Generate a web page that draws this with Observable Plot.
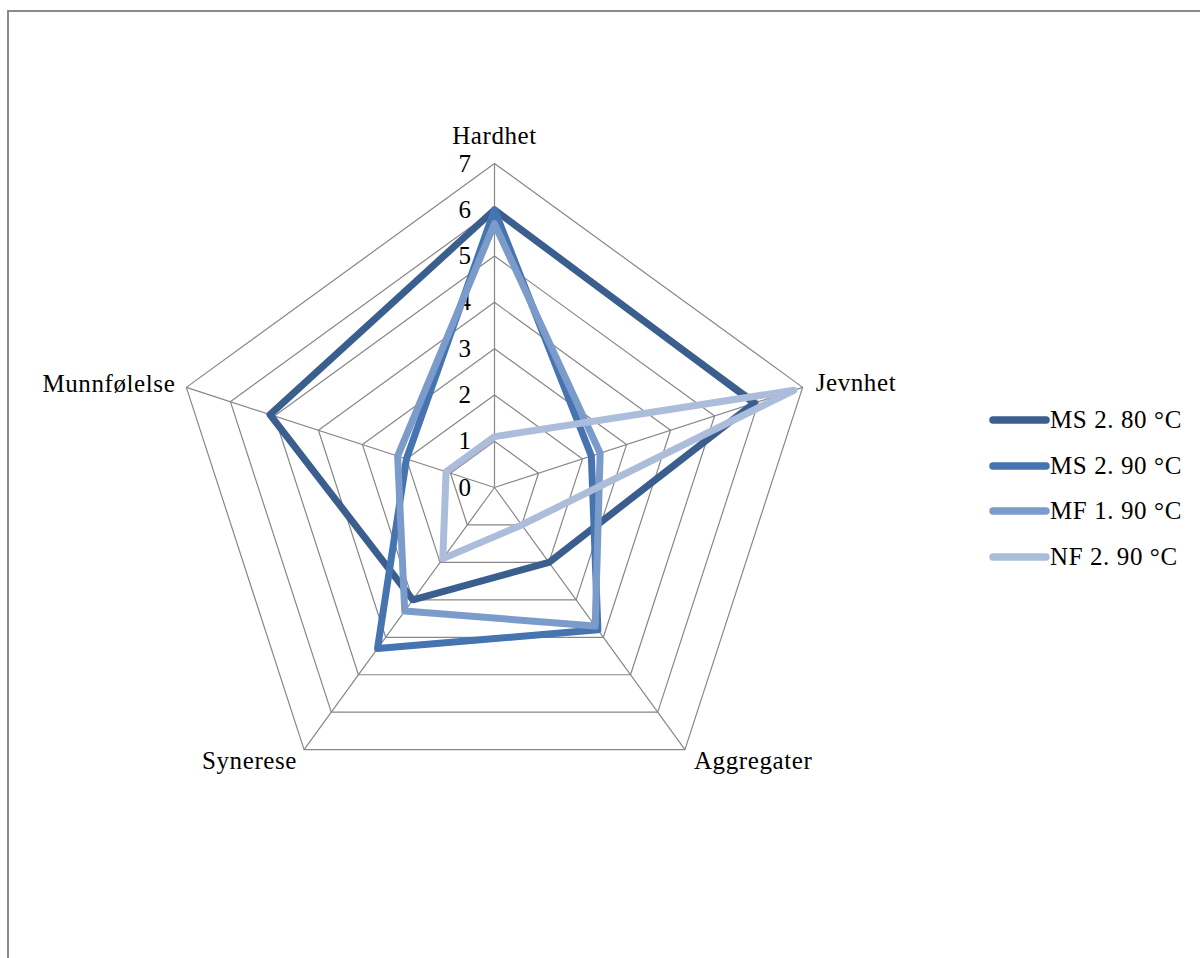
<!DOCTYPE html>
<html>
<head>
<meta charset="utf-8">
<script src="https://cdn.jsdelivr.net/npm/d3@7"></script>
<script src="https://cdn.jsdelivr.net/npm/@observablehq/plot@0.6"></script>
<style>
  html, body { margin: 0; padding: 0; background: #fff; }
  #wrap { position: relative; width: 1200px; height: 958px; overflow: hidden; font-family: "Liberation Serif", "DejaVu Serif", serif; }
  #frame { position: absolute; left: 7px; top: 10px; right: -10px; bottom: -10px; border-left: 2px solid #8a8a8a; border-top: 2px solid #8a8a8a; }
  #legend { position: absolute; left: 988px; top: 0; }
  .row { position: absolute; left: 0; height: 30px; display: flex; align-items: center; white-space: nowrap; font-size: 25px; letter-spacing: 0.6px; color: #000; }
  .row svg { display: block; }
</style>
</head>
<body>
<div id="wrap">
  <div id="frame"></div>
  <div id="chart"></div>
  <div id="legend"></div>
</div>
<script>
// Sensory profile categories (spokes, clockwise from the top)
const axes = ["Hardhet", "Jevnhet", "Aggregater", "Synerese", "Munnfølelse"];

// Scores per series, in the same order as axes
const ms280 = [6.0, 5.9, 2.0, 3.0, 5.1];
const ms290 = [6.0, 2.2, 3.8, 4.3, 2.0];
const mf190 = [5.7, 2.4, 3.7, 3.3, 2.2];
const nf290 = [1.1, 6.8, 1.0, 1.9, 1.1];

const seriesNames = ["MS 2. 80 °C", "MS 2. 90 °C", "MF 1. 90 °C", "NF 2. 90 °C"];
const seriesValues = [ms280, ms290, mf190, nf290];
const seriesColors = ["#3a5f8e", "#4574b0", "#7b9bcb", "#abbdda"];

// Radial scale ticks
const ticks = [0, 1, 2, 3, 4, 5, 6, 7];
const maxValue = 7;

// Layout of the drawing
const W = 1200, H = 958;
const cx = 494, cy = 487;          // pixel position of the centre
const unit = 324 / maxValue;       // pixels per score unit

const angle = i => (i * 2 * Math.PI) / axes.length;
const px = (i, r) => r * Math.sin(angle(i));
const py = (i, r) => r * Math.cos(angle(i));

// Grid rings (levels 1..7) as closed polygons
const rings = ticks.filter(t => t > 0).flatMap(level =>
  axes.map((a, i) => ({level, x: px(i, level), y: py(i, level)}))
);

// Series polygons
const polys = seriesNames.flatMap((name, s) =>
  seriesValues[s].map((v, i) => ({series: name, axis: axes[i], x: px(i, v), y: py(i, v)}))
);

// Label placement per category
const labelStyle = [
  {textAnchor: "middle", dx: 0, dy: -28},
  {textAnchor: "start", dx: 13, dy: -4},
  {textAnchor: "start", dx: 9, dy: 11},
  {textAnchor: "end", dx: -7, dy: 11},
  {textAnchor: "end", dx: -11, dy: -3}
];

const font = "'Liberation Serif', 'DejaVu Serif', serif";

const marks = [
  // grid rings
  Plot.line(rings, {x: "x", y: "y", z: "level", curve: "linear-closed", stroke: "#878787", strokeWidth: 1.2}),
  // spokes
  Plot.link(axes, {
    x1: () => 0, y1: () => 0,
    x2: (d, i) => px(i, maxValue), y2: (d, i) => py(i, maxValue),
    stroke: "#878787", strokeWidth: 1.2
  }),
  // radial tick labels along the top spoke
  Plot.text(ticks, {
    x: () => 0, y: d => d, text: d => String(d),
    textAnchor: "end", dx: -23, fontSize: 25, fill: "#000"
  }),
  // category labels
  ...axes.map((a, i) => Plot.text([a], {
    x: () => px(i, maxValue), y: () => py(i, maxValue), text: d => d,
    fontSize: 25, fill: "#000", ...labelStyle[i]
  })),
  // series
  ...seriesNames.map((name, s) => Plot.line(polys.filter(d => d.series === name), {
    x: "x", y: "y", curve: "linear-closed",
    stroke: seriesColors[s], strokeWidth: 7,
    strokeLinejoin: "round", strokeLinecap: "round"
  }))
];

const chart = Plot.plot({
  width: W,
  height: H,
  margin: 0,
  x: {domain: [-cx / unit, (W - cx) / unit], axis: null},
  y: {domain: [-(H - cy) / unit, cy / unit], axis: null},
  style: {fontFamily: font, letterSpacing: "0.6px", background: "transparent", overflow: "visible"},
  marks
});
chart.style.position = "absolute";
chart.style.left = "0";
chart.style.top = "0";
document.getElementById("chart").appendChild(chart);

// Legend with line swatches
const legend = document.getElementById("legend");
const rowCentres = [420, 465.5, 511, 556.5];
seriesNames.forEach((name, s) => {
  const row = document.createElement("div");
  row.className = "row";
  row.style.top = (rowCentres[s] - 15) + "px";
  row.innerHTML =
    `<svg width="62" height="12"><line x1="5" y1="6" x2="58" y2="6" stroke="${seriesColors[s]}" stroke-width="7.5" stroke-linecap="round"/></svg>` +
    `<span>${name}</span>`;
  legend.appendChild(row);
});
</script>
</body>
</html>
